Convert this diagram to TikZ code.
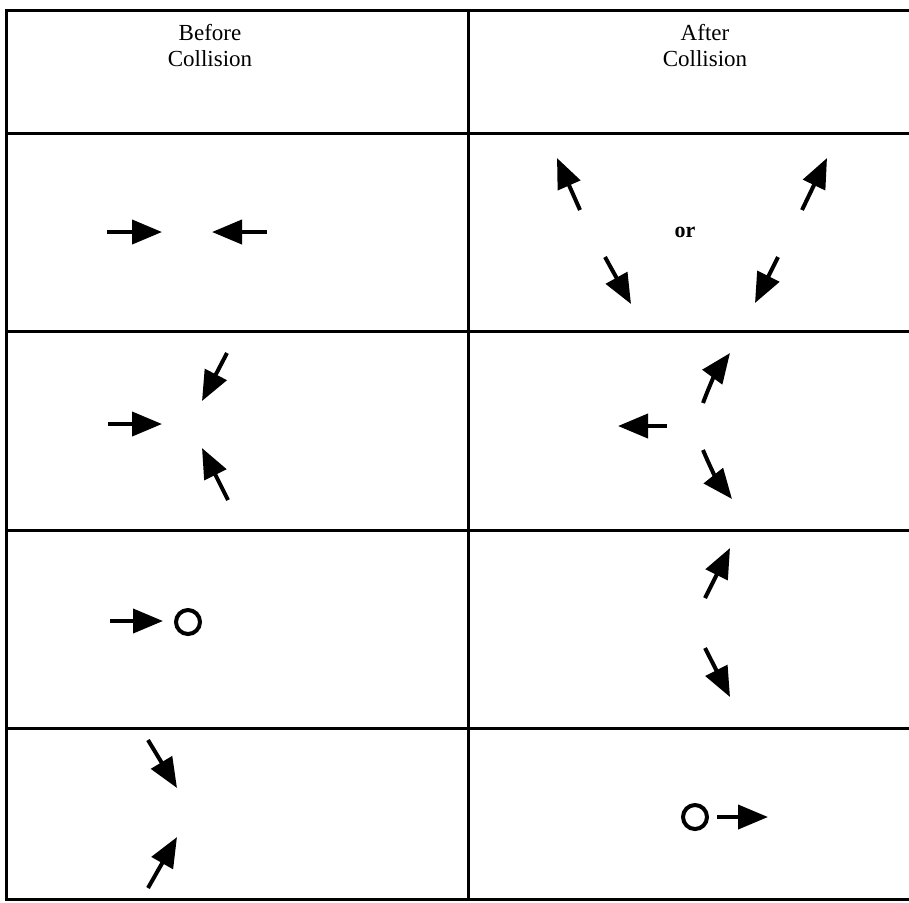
\documentclass[tikz,border=0pt]{standalone}
\usepackage{fontspec}
\setmainfont{Liberation Serif}
\usetikzlibrary{arrows.meta}
\begin{document}
\begin{tikzpicture}[x=0.5pt,y=-0.5pt,
  grid/.style={line width=1.5pt},
  vec/.style={line width=2pt,-{Triangle[length=15pt,width=12pt]}},
  ball/.style={circle,draw,line width=2pt,minimum size=12pt,inner sep=0pt},
  headtext/.style={align=center,font=\fontsize{11.5}{13}\selectfont},
  ortext/.style={font=\fontsize{11}{13}\selectfont\bfseries}]
\useasboundingbox (0,0) rectangle (909,902);
% table
\coordinate (tl) at (6,10);
\coordinate (tr) at (909,10);
\coordinate (bl) at (6,899);
\coordinate (br) at (909,899);
\coordinate (mt) at (468,10);
\coordinate (mb) at (468,899);
\draw[grid] (tr) -- (tl) -- (bl) -- (br);
\draw[grid] (mt) -- (mb);
\foreach \yy/\nm in {133/h1,331/h2,530/h3,728/h4}{
  \coordinate (\nm l) at (6,\yy);
  \coordinate (\nm r) at (909,\yy);
  \draw[grid] (\nm l) -- (\nm r);
}
% headers
\node[headtext] (before) at (210,46) {Before\\Collision};
\node[headtext] (after) at (705,46) {After\\Collision};
% row 1 left
\coordinate (r1a) at (107,232); \coordinate (r1b) at (162,232);
\coordinate (r1c) at (267,232); \coordinate (r1d) at (212,232);
\draw[vec] (r1a) -- (r1b);
\draw[vec] (r1c) -- (r1d);
% row 1 right
\node[ortext] (or) at (685,232) {or};
\coordinate (s1a) at (580,210); \coordinate (s1b) at (557,158);
\coordinate (s1c) at (605,257); \coordinate (s1d) at (631,304);
\coordinate (s1e) at (802,210); \coordinate (s1f) at (827,158);
\coordinate (s1g) at (778,257); \coordinate (s1h) at (755,303);
\draw[vec] (s1a) -- (s1b);
\draw[vec] (s1c) -- (s1d);
\draw[vec] (s1e) -- (s1f);
\draw[vec] (s1g) -- (s1h);
% row 2 left
\coordinate (r2a) at (227,353); \coordinate (r2b) at (202,401);
\coordinate (r2c) at (108,424); \coordinate (r2d) at (162,424);
\coordinate (r2e) at (228,500); \coordinate (r2f) at (202,448);
\draw[vec] (r2a) -- (r2b);
\draw[vec] (r2c) -- (r2d);
\draw[vec] (r2e) -- (r2f);
% row 2 right
\coordinate (s2a) at (703,403); \coordinate (s2b) at (730,353);
\coordinate (s2c) at (667,426); \coordinate (s2d) at (618,426);
\coordinate (s2e) at (703,450); \coordinate (s2f) at (732,499);
\draw[vec] (s2a) to[bend left=8] (s2b);
\draw[vec] (s2c) -- (s2d);
\draw[vec] (s2e) to[bend right=8] (s2f);
% row 3 left
\coordinate (r3a) at (110,621); \coordinate (r3b) at (163,621);
\draw[vec] (r3a) -- (r3b);
\node[ball] (c1) at (188,622) {};
% row 3 right
\coordinate (s3a) at (705,598); \coordinate (s3b) at (730,548);
\coordinate (s3c) at (705,648); \coordinate (s3d) at (730,697);
\draw[vec] (s3a) -- (s3b);
\draw[vec] (s3c) -- (s3d);
% row 4 left
\coordinate (r4a) at (148,740); \coordinate (r4b) at (177,788);
\coordinate (r4c) at (148,888); \coordinate (r4d) at (177,837);
\draw[vec] (r4a) -- (r4b);
\draw[vec] (r4c) -- (r4d);
% row 4 right
\node[ball] (c2) at (695,817) {};
\coordinate (s4b) at (768,817);
\draw[vec] (c2.east) ++(8,0) coordinate (s4a) -- (s4b);
\end{tikzpicture}
\end{document}
